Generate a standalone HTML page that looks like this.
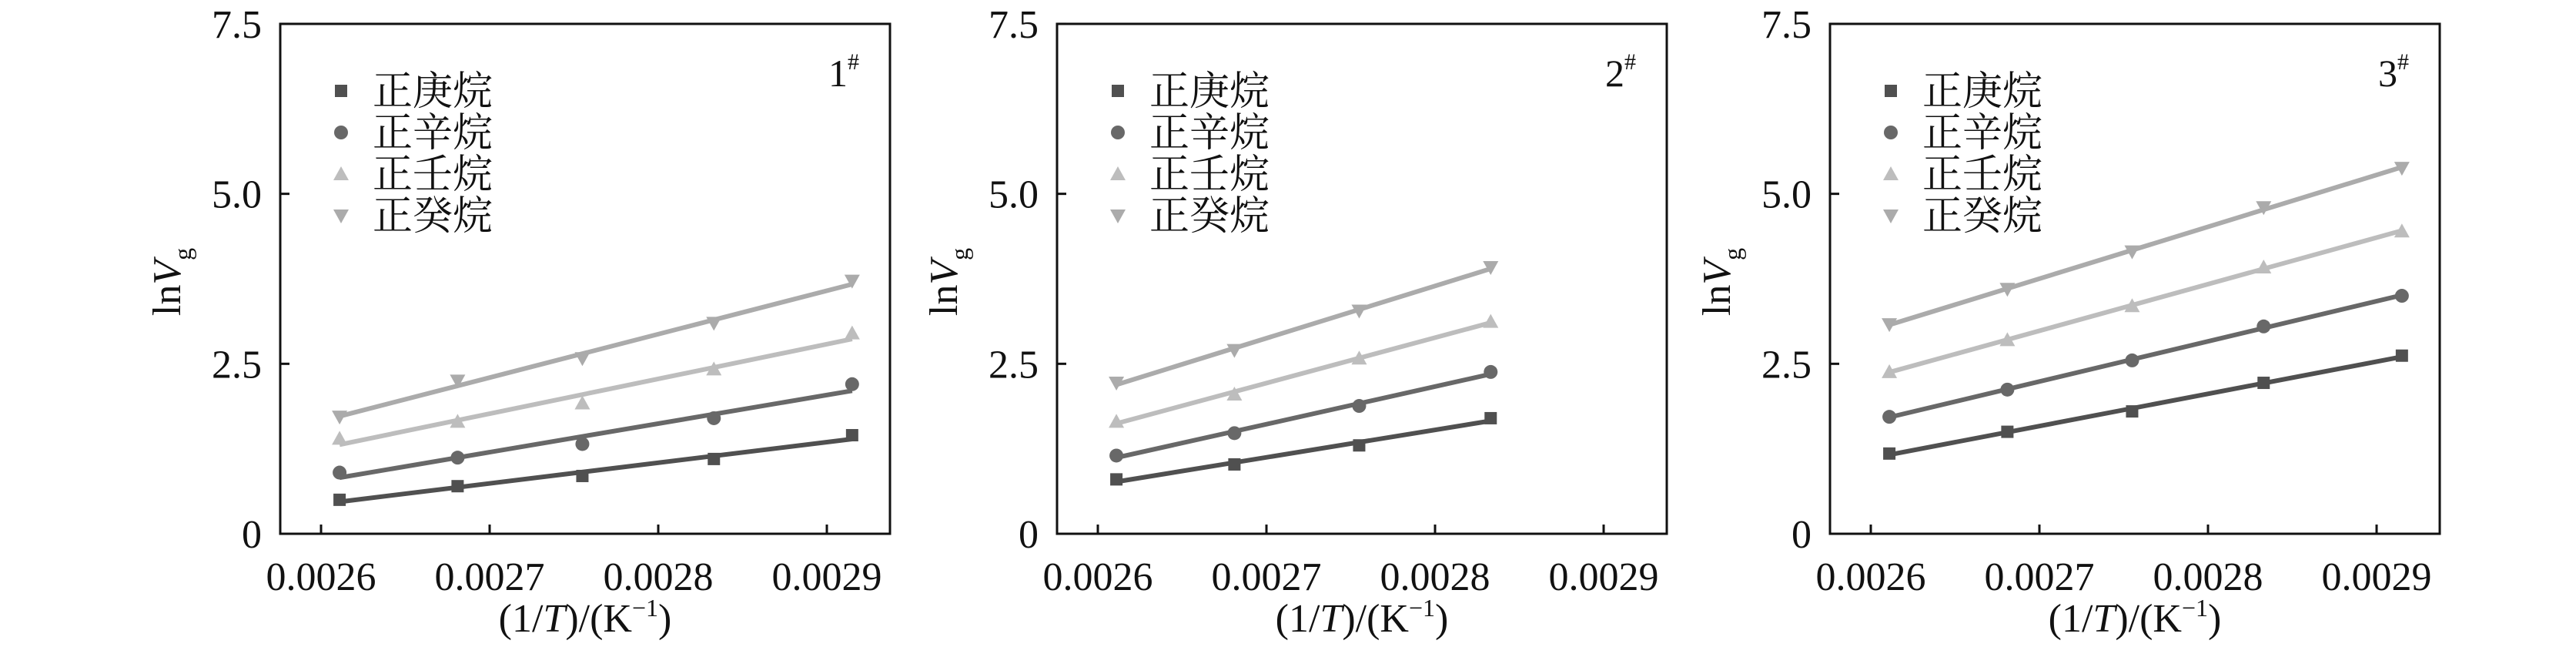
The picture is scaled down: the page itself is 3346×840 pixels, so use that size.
<!DOCTYPE html>
<html><head><meta charset="utf-8"><style>
html,body{margin:0;padding:0;background:#fff;}
svg{display:block;}
text{font-family:"Liberation Serif","Noto Serif CJK SC",serif;fill:#111;}
.cj{font-family:"Liberation Serif","Noto Serif CJK SC","Noto Sans CJK SC",serif;}
</style></head><body>
<svg id="s" width="3346" height="840" viewBox="0 0 3346 840" xmlns="http://www.w3.org/2000/svg" font-family="Liberation Serif, Noto Serif CJK SC, serif">
<g id="p0" transform="translate(0,0)">
<text x="1076" y="112" font-size="50" font-family="Liberation Serif, serif">1<tspan font-size="30" dy="-22">#</tspan></text>
<g><text class="cj" x="484" y="136" font-size="52">正庚烷</text><text class="cj" x="484" y="190" font-size="52">正辛烷</text><text class="cj" x="484" y="244" font-size="52">正壬烷</text><text class="cj" x="484" y="298" font-size="52">正癸烷</text></g>
</g>
<g id="p1" transform="translate(1009,0)">
<text x="1076" y="112" font-size="50" font-family="Liberation Serif, serif">2<tspan font-size="30" dy="-22">#</tspan></text>
<g><text class="cj" x="484" y="136" font-size="52">正庚烷</text><text class="cj" x="484" y="190" font-size="52">正辛烷</text><text class="cj" x="484" y="244" font-size="52">正壬烷</text><text class="cj" x="484" y="298" font-size="52">正癸烷</text></g>
</g>
<g id="p2" transform="translate(2013,0)">
<text x="1076" y="112" font-size="50" font-family="Liberation Serif, serif">3<tspan font-size="30" dy="-22">#</tspan></text>
<g><text class="cj" x="484" y="136" font-size="52">正庚烷</text><text class="cj" x="484" y="190" font-size="52">正辛烷</text><text class="cj" x="484" y="244" font-size="52">正壬烷</text><text class="cj" x="484" y="298" font-size="52">正癸烷</text></g>
</g>
</svg>
<script>
var NS="http://www.w3.org/2000/svg";
function el(p,t,a,txt){var e=document.createElementNS(NS,t);for(var k in a)e.setAttribute(k,a[k]);if(t=="text")e.setAttribute("font-family","Liberation Serif, serif");if(txt!==undefined)e.textContent=txt;p.appendChild(e);return e;}
var X=[0.002611,0.002681,0.002755,0.002833,0.002915];
var D=[
[[0.5,0.7,0.85,1.1,1.45],[0.9,1.12,1.32,1.7,2.2],[1.4,1.65,1.92,2.42,2.95],[1.72,2.25,2.58,3.1,3.72]],
[[0.8,1.02,1.3,1.7],[1.15,1.48,1.88,2.38],[1.65,2.05,2.58,3.12],[2.22,2.7,3.28,3.92]],
[[1.18,1.5,1.8,2.22,2.62],[1.72,2.12,2.55,3.05,3.5],[2.38,2.85,3.35,3.92,4.45],[3.08,3.6,4.15,4.8,5.38]]];
var C=["#505050","#686868","#bdbdbd","#ababab"];
function px(x){return 417+(x-0.0026)/0.0001*219;}
function py(y){return 693-88.27*y;}
function mark(g,k,x,y,s){
 if(k==0)el(g,"rect",{x:x-s,y:y-s,width:2*s,height:2*s,fill:C[0]});
 else if(k==1)el(g,"circle",{cx:x,cy:y,r:s+1,fill:C[1]});
 else if(k==2)el(g,"polygon",{points:(x-s-2)+","+(y+s)+" "+(x+s+2)+","+(y+s)+" "+x+","+(y-s-2),fill:C[2]});
 else el(g,"polygon",{points:(x-s-2)+","+(y-s)+" "+(x+s+2)+","+(y-s)+" "+x+","+(y+s+2),fill:C[3]});
}
for(var p=0;p<3;p++){
 var g=document.getElementById("p"+p);
 el(g,"rect",{x:364,y:31,width:792,height:662,fill:"none",stroke:"#111","stroke-width":3});
 [0,2.5,5,7.5].forEach(function(v,i){var y=py(v);el(g,"line",{x1:364,y1:y,x2:376,y2:y,stroke:"#111","stroke-width":3});
  el(g,"text",{x:340,y:y+18,"font-size":52,"text-anchor":"end"},["0","2.5","5.0","7.5"][i]);});
 [0.0026,0.0027,0.0028,0.0029].forEach(function(v,i){var x=px(v);el(g,"line",{x1:x,y1:693,x2:x,y2:681,stroke:"#111","stroke-width":3});
  el(g,"text",{x:x,y:766,"font-size":52,"text-anchor":"middle"},["0.0026","0.0027","0.0028","0.0029"][i]);});
 var t=el(g,"text",{x:760,y:820,"font-size":52,"text-anchor":"middle"});
 t.innerHTML='(1/<tspan font-style="italic">T</tspan>)/(K<tspan font-size="32" dy="-20">−1</tspan><tspan dy="20">)</tspan>';
 var t2=el(g,"text",{x:0,y:0,"font-size":52,"text-anchor":"middle",transform:"translate(234,366) rotate(-90)"});
 t2.innerHTML='ln<tspan font-style="italic">V</tspan><tspan font-size="32" dy="14">g</tspan>';
 [118,172,226,280].forEach(function(y,k){mark(g,k,443,y,8);});
 for(var k=0;k<4;k++){
  var ys=D[p][k],n=ys.length,xs=X.slice(0,n);
  var mx=0,my=0;for(var i=0;i<n;i++){mx+=xs[i];my+=ys[i];}mx/=n;my/=n;
  var sxy=0,sxx=0;for(i=0;i<n;i++){sxy+=(xs[i]-mx)*(ys[i]-my);sxx+=(xs[i]-mx)*(xs[i]-mx);}
  var b=sxy/sxx,a=my-b*mx;
  el(g,"line",{x1:px(xs[0]),y1:py(a+b*xs[0]),x2:px(xs[n-1]),y2:py(a+b*xs[n-1]),stroke:C[k],"stroke-width":6});
  for(i=0;i<n;i++)mark(g,k,px(xs[i]),py(ys[i]),8);
 }
}
</script>
</body></html>
